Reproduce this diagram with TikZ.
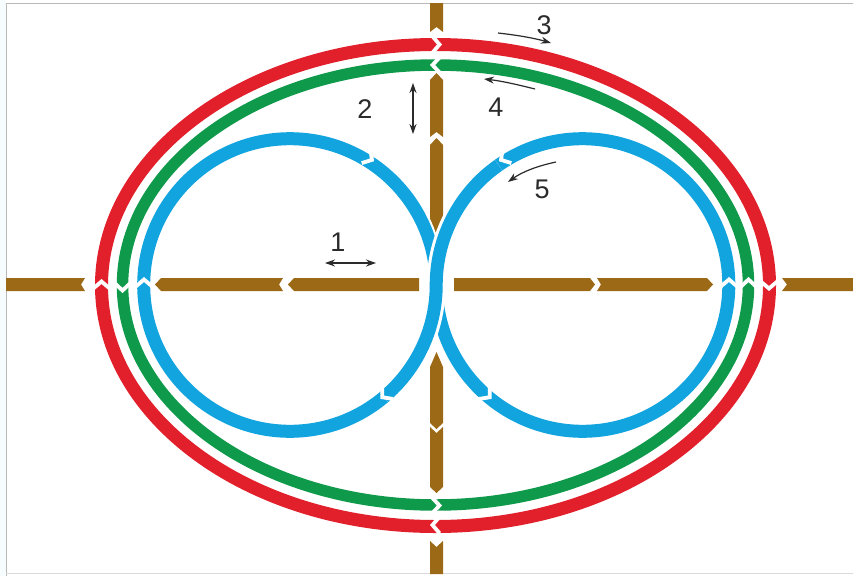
\documentclass[tikz,border=0pt]{standalone}
\usepackage{fontspec}
\setmainfont{Liberation Sans}
\usetikzlibrary{arrows.meta}
\definecolor{brn}{HTML}{9C6A16}
\definecolor{redband}{HTML}{E1202C}
\definecolor{grnband}{HTML}{0E9A4A}
\definecolor{bluband}{HTML}{12A4DE}
\definecolor{ink}{HTML}{2B2B2B}
\tikzset{
  brownpart/.style={fill=brn,draw=none},
  redring/.style={draw=redband,line width=13pt},
  greenring/.style={draw=grnband,line width=11.5pt},
  blueloop/.style={draw=bluband,line width=13pt},
  halo/.style={draw=white,line width=19pt},
  cutmark/.style={draw=white,line width=3.8pt,miter limit=10,line join=miter},
  motion/.style={draw=ink,line width=1.2pt,-{Stealth[length=10pt,width=7pt]}},
  motionboth/.style={draw=ink,line width=1.2pt,{Stealth[length=10pt,width=7pt]}-{Stealth[length=10pt,width=7pt]}},
  numlabel/.style={text=ink,font=\fontsize{27}{27}\selectfont,inner sep=0pt},
  frameline/.style={draw=black!28,line width=1pt}
}
% \cutat{x}{y}{direction of the tip}{half width of the band}
\newcommand{\cutat}[4]{\draw[cutmark,shift={(#1,#2)},rotate=#3] (-3.5,#4+1.7) -- (3.5,0) -- (-3.5,-#4-1.7);}
\begin{document}
\begin{tikzpicture}[x=1pt,y=-1pt]
\useasboundingbox (0,0) rectangle (853,576);
\fill[white] (0,0) rectangle (853,576);
\fill[cyan!3] (0,0) rectangle (6,576);
\draw[frameline] (6,576) -- (6,3) -- (853,3);
\draw[frameline,black!15] (6,573.5) -- (853,573.5);

% brown cross: horizontal pieces
\fill[brownpart] (6,278) -- (85,278) -- (81,284.5) -- (85,291) -- (6,291) -- cycle;
\fill[brownpart] (155,284.5) -- (161,278) -- (283,278) -- (279,284.5) -- (283,291) -- (161,291) -- cycle;
\fill[brownpart] (288,284.5) -- (294,278) -- (419,278) -- (419,291) -- (294,291) -- cycle;
\fill[brownpart] (454,278) -- (590,278) -- (595,284.5) -- (590,291) -- (454,291) -- cycle;
\fill[brownpart] (597,278) -- (707,278) -- (713,284.5) -- (707,291) -- (597,291) -- (601,284.5) -- cycle;
\fill[brownpart] (782,278) -- (853,278) -- (853,291) -- (782,291) -- (787,284.5) -- cycle;
% brown cross: vertical pieces
\fill[brownpart] (430,3) -- (443,3) -- (443,32) -- (436.5,27) -- (430,32) -- cycle;
\fill[brownpart] (436.5,73) -- (443,80) -- (443,137) -- (436.5,132) -- (430,137) -- (430,80) -- cycle;
\fill[brownpart] (436.5,138) -- (443,145) -- (443,245) -- (430,245) -- (430,145) -- cycle;
\fill[brownpart] (436.5,352) -- (443,367) -- (443,423) -- (436.5,429) -- (430,423) -- (430,367) -- cycle;
\fill[brownpart] (430,427) -- (436.5,433) -- (443,427) -- (443,487) -- (436.5,493) -- (430,487) -- cycle;
\fill[brownpart] (430,541) -- (436.5,547) -- (443,541) -- (443,574) -- (430,574) -- cycle;

% rings
\draw[redring] (435.5,285.5) ellipse [x radius=334,y radius=241];
\draw[greenring] (435.5,285) ellipse [x radius=313,y radius=220];

% blue figure of eight
\draw[halo,line width=17pt] (290,285) circle [radius=146.3];
\draw[blueloop] (290,285) circle [radius=146.3];
\draw[halo,line width=17pt] (582.5,285) circle [radius=146.3];
\draw[blueloop] (582.5,285) circle [radius=146.3];
\draw[halo] ([shift={(-125:146.3)}]582.5,285) arc [start angle=-125,end angle=-180,radius=146.3]
  arc [start angle=0,end angle=50,radius=146.3];
\draw[blueloop] ([shift={(-125:146.3)}]582.5,285) arc [start angle=-125,end angle=-180,radius=146.3]
  arc [start angle=0,end angle=50,radius=146.3];

% cuts in the bands
\cutat{436}{44.5}{0}{6.5}
\cutat{436}{65}{180}{5.75}
\cutat{436}{505.5}{0}{5.75}
\cutat{436}{525}{180}{6.5}
\cutat{101.5}{285}{90}{6.5}
\cutat{122.5}{287}{-90}{5.75}
\cutat{144}{283}{90}{6.5}
\cutat{729}{283}{90}{6.5}
\cutat{748.5}{283}{90}{5.75}
\cutat{769}{285}{-90}{6.5}
\cutat{369}{158}{-32}{6.5}
\cutat{504}{158}{212}{6.5}
\cutat{385}{395}{-139}{6.5}
\cutat{487}{395}{-41}{6.5}

% motion arrows
\draw[motionboth] (325,263) -- (376,263);
\draw[motionboth] (413,83) -- (413,134);
\draw[motion] (498,33) .. controls (516,35) and (534,38) .. (551,43);
\draw[motion] (535,89) .. controls (519,85) and (502,81) .. (484,79);
\draw[motion] (556,162) .. controls (537,166) and (522,172) .. (508,182);

% labels
\node[numlabel] (n1) at (338,242) {1};
\node[numlabel] (n2) at (365,109) {2};
\node[numlabel] (n3) at (544,25) {3};
\node[numlabel] (n4) at (496,107) {4};
\node[numlabel] (n5) at (542,189) {5};
\end{tikzpicture}
\end{document}
